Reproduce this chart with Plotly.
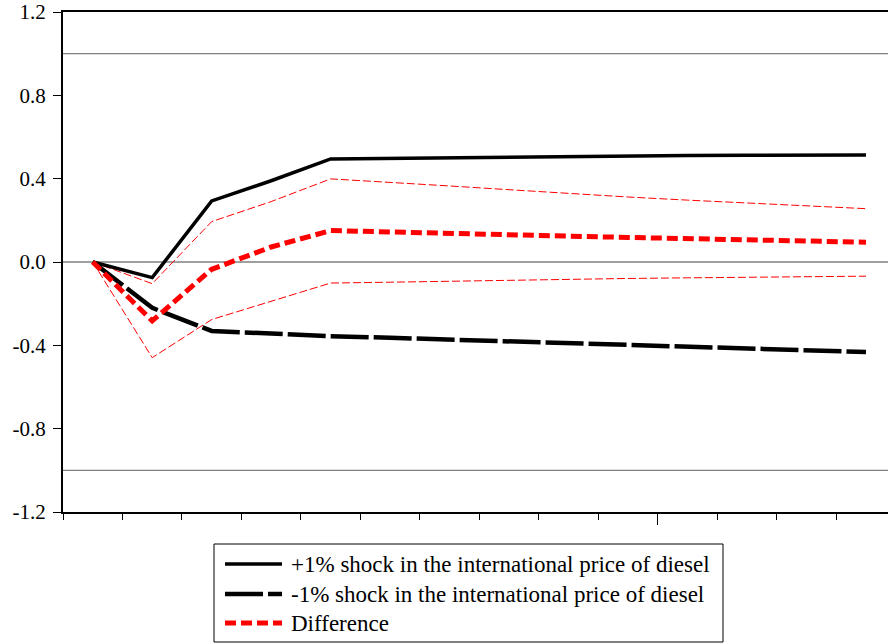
import plotly.graph_objects as go

# ---- data ----
periods = list(range(14))
shock_pos = [0, -0.075, 0.293, 0.39, 0.495, 0.498, 0.502, 0.505, 0.508, 0.51, 0.511, 0.512, 0.513, 0.514]
shock_neg = [0, -0.22, -0.331, -0.344, -0.356, -0.364, -0.372, -0.38, -0.388, -0.396, -0.404, -0.413, -0.422, -0.432]
difference = [0, -0.283, -0.035, 0.072, 0.151, 0.143, 0.137, 0.131, 0.124, 0.118, 0.112, 0.106, 0.1, 0.095]
diff_upper = [0, -0.104, 0.194, 0.29, 0.399, 0.383, 0.365, 0.347, 0.328, 0.312, 0.297, 0.283, 0.27, 0.256]
diff_lower = [0, -0.459, -0.276, -0.19, -0.101, -0.097, -0.092, -0.088, -0.083, -0.079, -0.076, -0.073, -0.071, -0.068]
ref_levels = [1.0, 0.0, -1.0]
y_ticks = [1.2, 0.8, 0.4, 0.0, -0.4, -0.8, -1.2]
y_tick_text = ["1.2", "0.8", "0.4", "0.0", "-0.4", "-0.8", "-1.2"]
legend_labels = ["+1% shock in the international price of diesel",
                 "-1% shock in the international price of diesel",
                 "Difference"]

FONT = "Liberation Serif"
W, H = 888, 644
ML, MR, MT, MB = 63, 0, 12, 132
PW, PH = W - ML - MR, H - MT - MB

def px_x(x):  # screen pixel -> paper
    return (x - ML) / PW

def px_y(y):
    return (H - MB - y) / PH

fig = go.Figure()

fig.add_trace(go.Scatter(x=periods, y=diff_upper, mode="lines",
                         line=dict(color="#FF0000", width=1, dash="8px,3px"), showlegend=False))
fig.add_trace(go.Scatter(x=periods, y=diff_lower, mode="lines",
                         line=dict(color="#FF0000", width=1, dash="8px,3px"), showlegend=False))
fig.add_trace(go.Scatter(x=periods, y=shock_pos, mode="lines",
                         line=dict(color="black", width=3.5), showlegend=False))
fig.add_trace(go.Scatter(x=periods, y=shock_neg, mode="lines",
                         line=dict(color="black", width=4.5, dash="38px,5px"), showlegend=False))
fig.add_trace(go.Scatter(x=periods, y=difference, mode="lines",
                         line=dict(color="#FF0000", width=5, dash="11px,5px"), showlegend=False))

shapes = []
for lv in ref_levels:
    shapes.append(dict(type="line", xref="paper", yref="y", x0=0, x1=1, y0=lv, y1=lv,
                       line=dict(color="#808080", width=1.3), layer="below"))

# manual legend
box_l, box_r, box_t, box_b = 214, 723, 544, 642
shapes.append(dict(type="rect", xref="paper", yref="paper",
                   x0=px_x(box_l), x1=px_x(box_r), y0=px_y(box_b), y1=px_y(box_t),
                   line=dict(color="black", width=1), fillcolor="white"))
leg_styles = [dict(color="black", width=3.5, dash="solid"),
              dict(color="black", width=4.5, dash="38px,5px"),
              dict(color="#FF0000", width=5, dash="11px,5px")]
leg_y = [564, 594, 623]
annotations = []
for lbl, st, yy in zip(legend_labels, leg_styles, leg_y):
    shapes.append(dict(type="line", xref="paper", yref="paper",
                       x0=px_x(225), x1=px_x(282), y0=px_y(yy), y1=px_y(yy), line=st))
    annotations.append(dict(xref="paper", yref="paper", x=px_x(289), y=px_y(yy),
                            xanchor="left", yanchor="middle", showarrow=False, text=lbl,
                            font=dict(family=FONT, size=23, color="black")))

fig.update_layout(
    width=W, height=H,
    margin=dict(l=ML, r=MR, t=MT, b=MB, pad=0),
    paper_bgcolor="white", plot_bgcolor="white",
    shapes=shapes, annotations=annotations,
    showlegend=False,
    font=dict(family=FONT, size=20, color="black"),
)
fig.update_xaxes(range=[-0.5, 13.37], showgrid=False, zeroline=False,
                 showline=True, linecolor="black", linewidth=1.5, mirror=True,
                 tickvals=[9.5], ticks="outside", ticklen=11, tickwidth=1.3, tickcolor="black",
                 showticklabels=False,
                 minor=dict(tick0=-0.5, dtick=1, ticks="outside", ticklen=6,
                            tickwidth=1.3, tickcolor="black", showgrid=False))
fig.update_yaxes(range=[-1.2, 1.2], showgrid=False, zeroline=False,
                 showline=True, linecolor="black", linewidth=2,
                 tickvals=y_ticks, ticktext=y_tick_text, ticks="outside", ticklen=8,
                 tickwidth=1.3, tickcolor="black", ticklabelstandoff=3,
                 ticklabeloverflow="allow",
                 tickfont=dict(family=FONT, size=21, color="black"))

fig.write_html("out.html", config={"displayModeBar": False},
               post_script="document.body.style.margin='0px';document.body.style.padding='0px';")
